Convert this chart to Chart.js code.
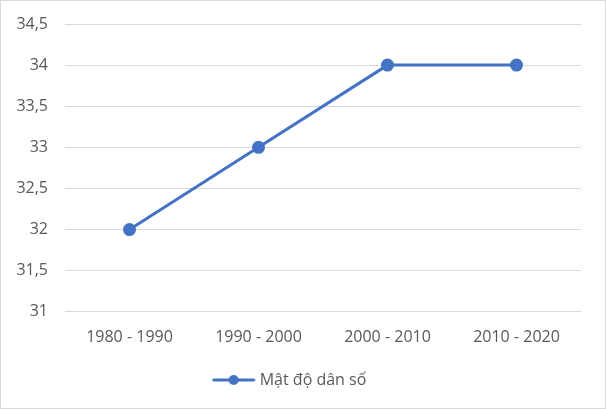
<!DOCTYPE html>
<html>
<head>
<meta charset="utf-8">
<script src="https://cdn.jsdelivr.net/npm/chart.js@4.4.0/dist/chart.umd.min.js"></script>
<style>
  body { margin: 0; background: #fff; }
  #wrap { width: 606px; height: 409px; box-sizing: border-box; border: 1px solid #d9d9d9; }
  #chart { display: block; }
</style>
</head>
<body>
<div id="wrap"><canvas id="chart" width="604" height="407"></canvas></div>
<script>
const periods = ["1980 - 1990", "1990 - 2000", "2000 - 2010", "2010 - 2020"];
const density = [32, 33, 34, 34];
const seriesName = "Mật độ dân số";
const lineColor = "#4472c4";

// legend marker: short line with a dot in the middle
function legendMarker() {
    const c = document.createElement("canvas");
    c.width = 44; c.height = 12;
    const g = c.getContext("2d");
    g.strokeStyle = lineColor;
    g.lineWidth = 3;
    g.lineCap = "round";
    g.beginPath(); g.moveTo(2, 6); g.lineTo(42, 6); g.stroke();
    g.fillStyle = lineColor;
    g.beginPath(); g.arc(22, 6, 5, 0, Math.PI * 2); g.fill();
    return c;
}

const font = { family: "'Open Sans', 'Liberation Sans', sans-serif", size: 16 };

new Chart(document.getElementById("chart"), {
    type: "line",
    data: {
        labels: periods,
        datasets: [{
            label: seriesName,
            data: density,
            borderColor: lineColor,
            backgroundColor: lineColor,
            borderWidth: 3,
            pointRadius: 5,
            pointHoverRadius: 5,
            pointStyle: "circle",
            tension: 0
        }]
    },
    options: {
        responsive: false,
        animation: false,
        layout: { padding: { top: 23, right: 24, left: 0, bottom: 10 } },
        scales: {
            x: {
                offset: true,
                grid: { display: false },
                border: { display: false },
                ticks: { color: "#595959", font: font, padding: 8 }
            },
            y: {
                min: 31, max: 34.5,
                grid: { color: "#d9d9d9", drawTicks: false },
                border: { display: false },
                afterFit: s => { s.width = 64; s.paddingTop = 0; },
                ticks: {
                    stepSize: 0.5,
                    color: "#595959",
                    font: font,
                    padding: 17,
                    callback: v => String(v).replace(".", ",")
                }
            }
        },
        plugins: {
            legend: {
                position: "bottom",
                labels: {
                    usePointStyle: true,
                    pointStyleWidth: 36,
                    color: "#595959",
                    font: font,
                    padding: 17,
                    generateLabels: chart => [{
                        text: seriesName,
                        fontColor: "#595959",
                        pointStyle: legendMarker(),
                        datasetIndex: 0,
                        lineWidth: 0,
                        strokeStyle: "transparent",
                        fillStyle: "transparent"
                    }]
                }
            },
            tooltip: { enabled: false }
        }
    }
});
</script>
</body>
</html>
